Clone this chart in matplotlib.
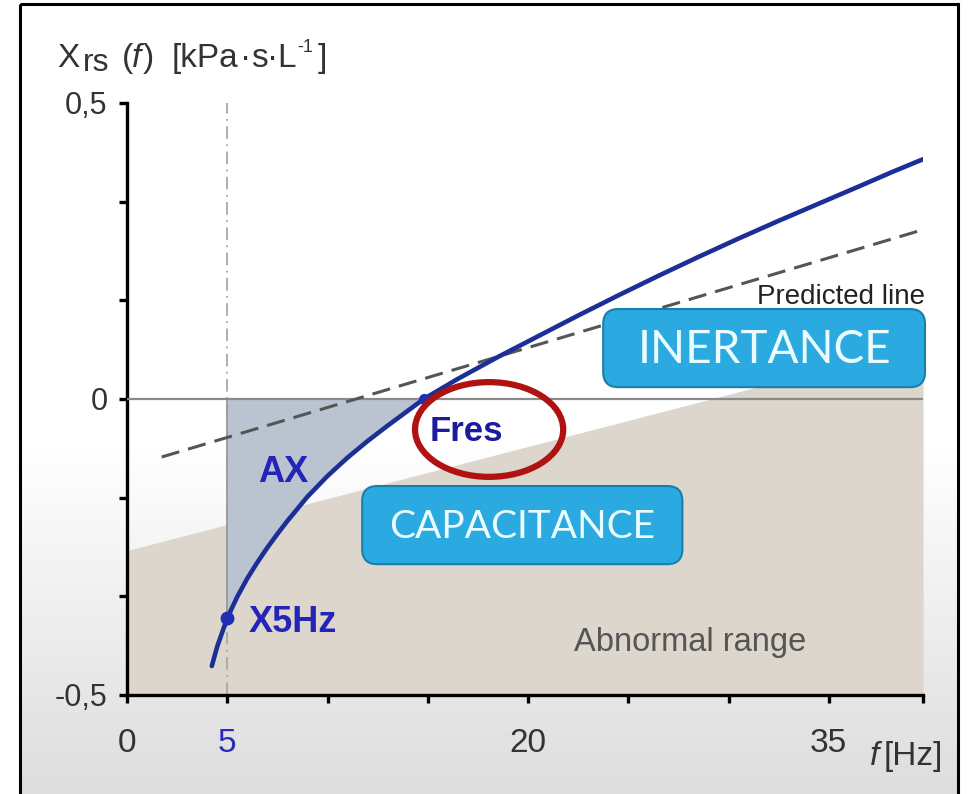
import numpy as np
import matplotlib
matplotlib.use("Agg")
import matplotlib.pyplot as plt
from matplotlib.patches import FancyBboxPatch, Ellipse, Rectangle

plt.rcParams['font.family'] = ['Liberation Sans', 'DejaVu Sans']
plt.rcParams['mathtext.fontset'] = 'custom'
plt.rcParams['mathtext.rm'] = 'Liberation Sans'
plt.rcParams['mathtext.it'] = 'Liberation Sans:italic'

# Reactance curve Xrs(f)
freq = [4.23, 4.5, 5.0, 5.5, 6.0, 6.5, 7.0, 7.5, 8.0, 9.0, 10.0, 11.0, 12.0,
        13.0, 14.0, 14.8, 16.5, 18.5, 20.5, 22.5, 24.5, 26.5, 28.5, 30.5,
        32.5, 34.5, 36.5, 38.2, 39.7]
xrs = [-0.451, -0.418, -0.370, -0.334, -0.303, -0.276, -0.251, -0.228, -0.206,
       -0.165, -0.130, -0.099, -0.071, -0.045, -0.020, 0.0, 0.034, 0.071,
       0.106, 0.141, 0.175, 0.208, 0.240, 0.271, 0.301, 0.330, 0.359, 0.384,
       0.405]

# Predicted line
pred_f = [1.73, 39.7]
pred_x = [-0.098, 0.286]

# Upper edge of the abnormal range
abn_f = [0.0, 39.7]
abn_upper = [-0.256, 0.093]

# Key points
x5_f, x5_val = 5.0, -0.370
fres_f, fres_val = 14.8, 0.0

xticks = [0, 5, 10, 15, 20, 25, 30, 35, 39.7]
xticklabels = ['0', '5', '', '', '20', '', '', '35', '']
yticks = [-0.5, -1/3, -1/6, 0, 1/6, 1/3, 0.5]
yticklabels = ['-0,5', '', '', '0', '', '', '0,5']

W, H = 971, 794
fig = plt.figure(figsize=(W / 100, H / 100), dpi=100)

# background: soft vertical gradient inside a black frame (pixel coordinates)
bg = fig.add_axes([0, 0, 1, 1], zorder=0)
bg.set_xlim(0, W)
bg.set_ylim(H, 0)
bg.axis('off')
step = 2
for y in range(4, H, step):
    t = np.clip((y - 440) / (H - 440), 0, 1)
    c = 1.0 - 0.135 * t
    bg.add_patch(Rectangle((20, y), 938, step + 0.5, color=(c, c, c), lw=0, zorder=0))
bg.add_patch(Rectangle((20, 4), 938, H + 10, fill=False, ec='black', lw=2.2, zorder=2))

ax = fig.add_axes([127 / W, 1 - 695 / H, 796 / W, 592 / H], zorder=1)
ax.patch.set_alpha(0)
ax.set_xlim(0, 39.7)
ax.set_ylim(-0.5, 0.5)
for s in ('top', 'right'):
    ax.spines[s].set_visible(False)
for s in ('left', 'bottom'):
    ax.spines[s].set_linewidth(2.4)
    ax.spines[s].set_color('black')
ax.tick_params(direction='out', length=6, width=2.4, colors='black')
ax.set_xticks(xticks)
ax.set_xticklabels(xticklabels, fontsize=24, color='#333333')
ax.set_yticks(yticks)
ax.set_yticklabels(yticklabels, fontsize=22, color='#333333')
ax.tick_params(axis='x', pad=18)
ax.tick_params(axis='y', pad=8)
for lab in ax.get_xticklabels():
    if lab.get_text() == '5':
        lab.set_color('#2b2bb5')

# abnormal range
ax.fill_between(abn_f, abn_upper, -0.5, color='#dcd6cc', lw=0, zorder=1)

# AX area between 5 Hz and Fres
sel = [i for i, f in enumerate(freq) if x5_f <= f <= fres_f]
ax.fill_between([freq[i] for i in sel], [xrs[i] for i in sel], 0,
                color='#bac4d1', lw=0, zorder=2)
ax.plot([x5_f, x5_f], [x5_val, 0], color='#999999', lw=1.3, zorder=2.5)

# reference lines
ax.axvline(5, ymin=0, ymax=1, color='#a8a8a8', lw=1.3,
           linestyle=(0, (7, 3, 1, 3)), zorder=2.2)
ax.plot([0, 39.7], [0, 0], color='#8a8a8a', lw=1.6, zorder=3)
ax.plot(pred_f, pred_x, color='#555555', lw=2.2, dashes=(6, 3), zorder=3)

# reactance curve
ax.plot(freq, xrs, color='#1b2f96', lw=3.3, solid_capstyle='round',
        solid_joinstyle='round', zorder=5)
ax.plot([x5_f], [x5_val], 'o', color='#1f2fb5', ms=9, zorder=6)
ax.plot([fres_f], [fres_val], 'o', color='#1f2fb5', ms=7, zorder=6)

# labels on the plot
ax.text(7.8, -0.125, 'AX', fontsize=26, fontweight='bold', color='#2424b8',
        ha='center', va='center', zorder=7)
ax.text(6.05, -0.378, 'X5Hz', fontsize=26, fontweight='bold', color='#2424b8',
        ha='left', va='center', zorder=7)
ax.text(15.1, -0.055, 'Fres', fontsize=25, fontweight='bold', color='#1c1c9c',
        ha='left', va='center', zorder=7)
ax.add_patch(Ellipse((18.06, -0.0515), 7.39, 0.160, fill=False, ec='#b01212',
                     lw=4.5, zorder=7))
ax.text(28.1, -0.412, 'Abnormal range', fontsize=23.5, color='#555555',
        ha='center', va='center', zorder=7)
ax.text(39.8, 0.172, 'Predicted line', fontsize=20, color='#222222',
        ha='right', va='center', zorder=7)

asp = (796 / 39.7) / 592  # y data per x data for equal pixel rounding


def tag(x0, x1, y0, y1, label, size):
    box = FancyBboxPatch((x0, y0), x1 - x0, y1 - y0,
                         boxstyle='round,pad=0,rounding_size=0.75',
                         mutation_aspect=asp, fc='#2aaae0', ec='#1a7fa8',
                         lw=1.5, zorder=8, clip_on=False)
    ax.add_patch(box)
    ax.text((x0 + x1) / 2, (y0 + y1) / 2 - 0.004, label, fontsize=size,
            color='#eafcff', family=['Lato', 'DejaVu Sans'],
            ha='center', va='center', zorder=9)


tag(23.75, 39.8, 0.02, 0.152, 'INERTANCE', 33)
tag(11.73, 27.7, -0.279, -0.147, 'CAPACITANCE', 28)


# axis titles, placed piece by piece in pixel coordinates
def ptext(x, y, s, **kw):
    bg.text(x, y, s, ha='left', va='baseline', color='#333333', zorder=3, **kw)


ptext(57, 67, 'X', fontsize=24)
ptext(83, 71, 'rs', fontsize=23)
ptext(122, 67, '(', fontsize=24)
ptext(132, 67, 'f', fontsize=24, style='italic')
ptext(143, 67, ')', fontsize=24)
ptext(172, 67, '[kPa', fontsize=24)
ptext(240, 67, '·', fontsize=24)
ptext(251, 67, 's', fontsize=24)
ptext(267, 67, '·', fontsize=24)
ptext(277, 67, 'L', fontsize=24)
ptext(297, 52, '-1', fontsize=13)
ptext(318, 67, ']', fontsize=24)

ptext(870, 765, 'f', fontsize=24, style='italic')
ptext(884, 765, '[Hz]', fontsize=24)

fig.savefig('out.png', dpi=100)
